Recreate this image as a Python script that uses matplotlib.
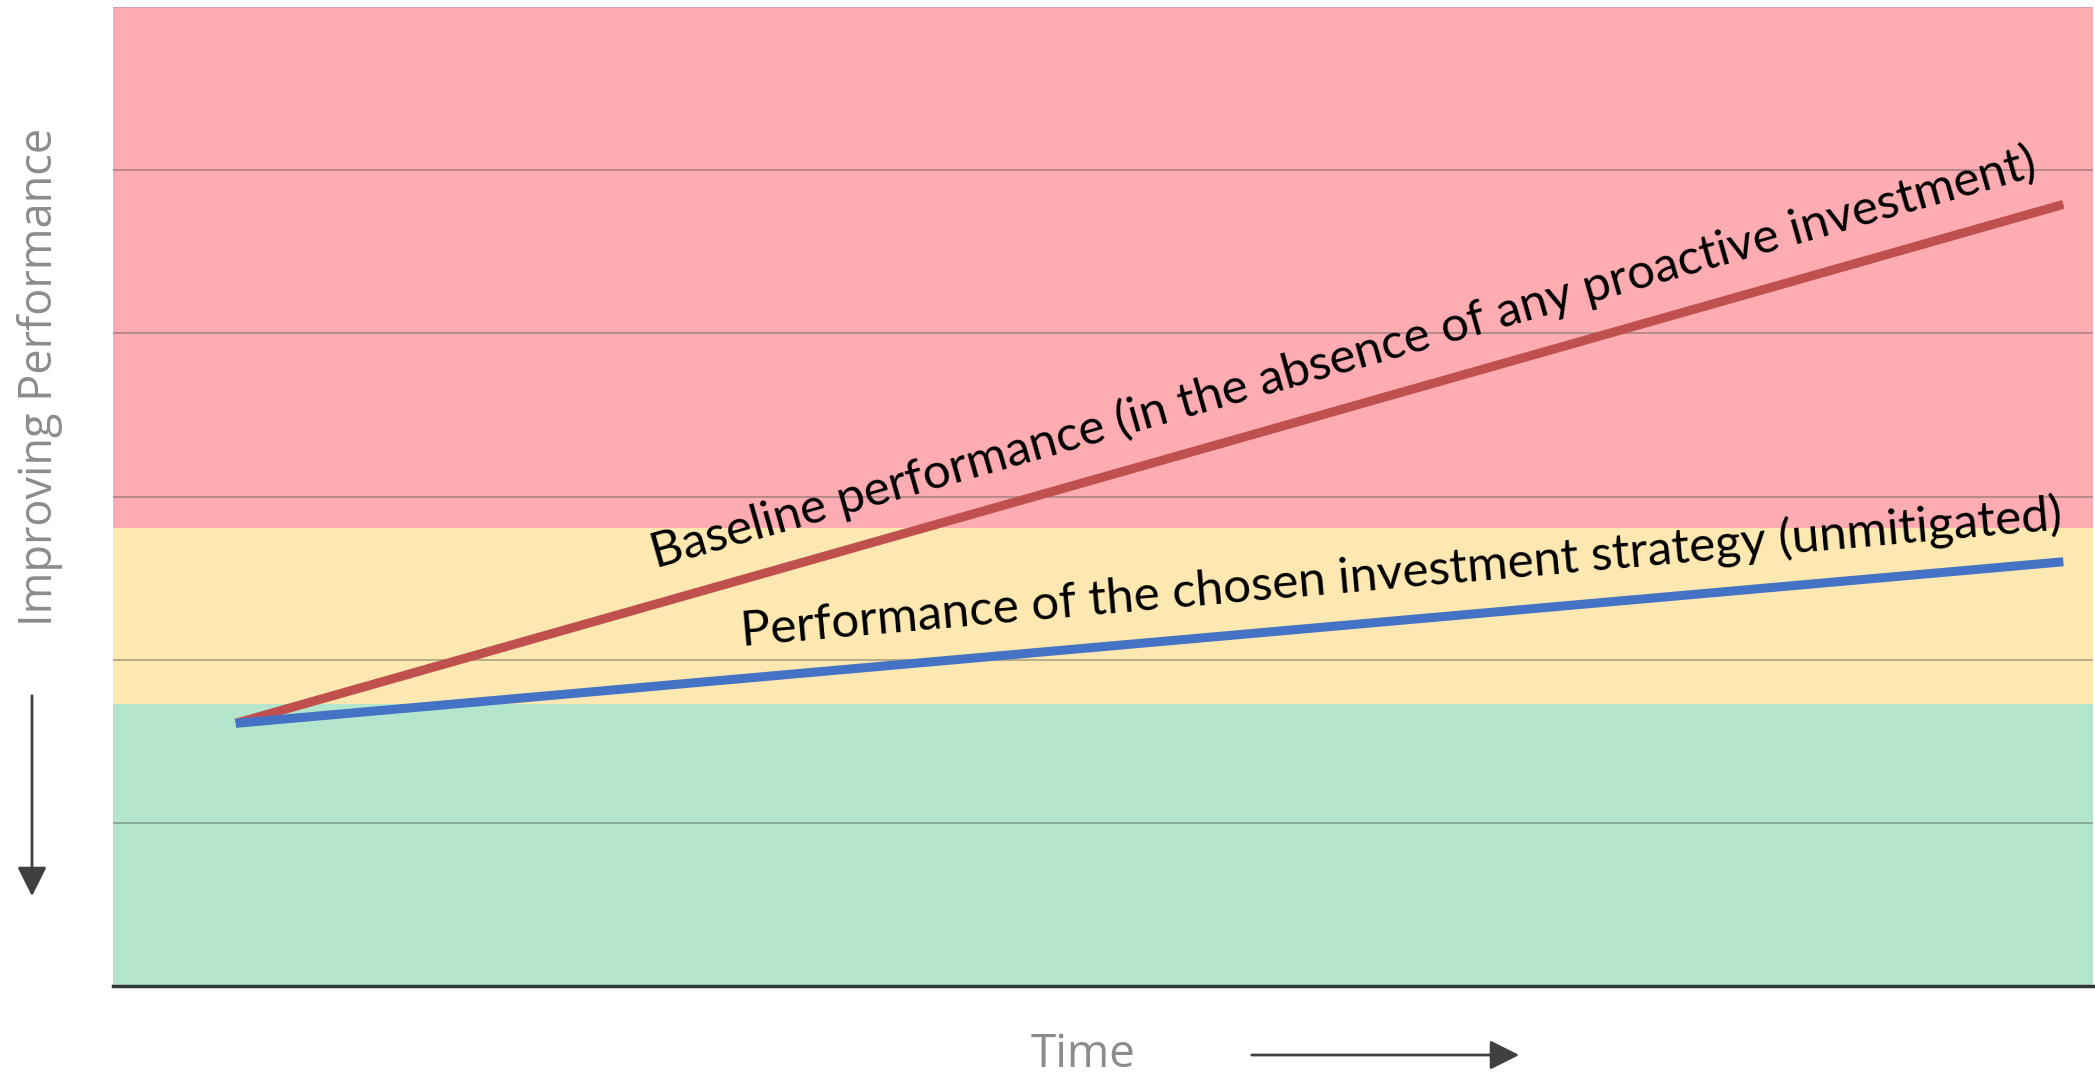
import matplotlib.pyplot as plt
import numpy as np

# band limits on the performance axis (0 = bottom, 6 = top)
band_edges = [0.0, 1.73, 2.81, 6.0]
band_colors = ['#b3e6cc', '#fde8b1', '#fdadb1']

grid_levels = [1, 2, 3, 4, 5, 6]

# two straight trajectories over time
time = [6.2, 98.5]
baseline = [1.61, 4.79]
strategy = [1.61, 2.60]

baseline_label = 'Baseline performance (in the absence of any proactive investment)'
strategy_label = 'Performance of the chosen investment strategy (unmitigated)'

W, H = 2095, 1075
fig = plt.figure(figsize=(W / 100, H / 100), dpi=100)
ax = fig.add_axes([113 / W, 1 - 986 / H, 1980 / W, 979 / H])
ax.set_xlim(0, 100)
ax.set_ylim(0, 6)

# coloured zones
for lo, hi, c in zip(band_edges[:-1], band_edges[1:], band_colors):
    ax.axhspan(lo, hi, color=c, zorder=0, lw=0)

# horizontal gridlines
for g in grid_levels:
    ax.axhline(g, color='#555555', alpha=0.45 if g < 6 else 0.2, lw=1.3, zorder=1)

ax.plot(time, baseline, color='#c0504d', lw=6.5, solid_capstyle='butt', zorder=3)
ax.plot(time, strategy, color='#4472c4', lw=6.5, solid_capstyle='butt', zorder=3)

for s in ['top', 'right', 'left']:
    ax.spines[s].set_visible(False)
ax.spines['bottom'].set_color('#2f3833')
ax.spines['bottom'].set_linewidth(2.5)
ax.set_xticks([])
ax.set_yticks([])

# rotate the labels to follow the lines on screen
def screen_angle(xs, ys):
    p = ax.transData.transform(np.column_stack([xs, ys]))
    return np.degrees(np.arctan2(p[1, 1] - p[0, 1], p[1, 0] - p[0, 0]))

ax.text(27.4, 2.56, baseline_label, rotation=screen_angle(time, baseline),
        rotation_mode='anchor', ha='left', va='baseline',
        fontsize=35.5, family='Lato', color='#000000', zorder=4)
ax.text(31.8, 2.08, strategy_label, rotation=screen_angle(time, strategy),
        rotation_mode='anchor', ha='left', va='baseline',
        fontsize=35.5, family='Lato', color='#000000', zorder=4)

# axis captions with arrows
fig.text(40 / W, 1 - 377 / H, 'Improving Performance', rotation=90,
         ha='center', va='center', fontsize=32.5, family='Open Sans', color='#8c8c8c')
fig.text(1083 / W, 1 - 1055 / H, 'Time', ha='center', va='center',
         fontsize=33, family='Open Sans', color='#8c8c8c')

arrow = dict(arrowstyle='-|>', color='#404040', lw=2, mutation_scale=45)
fig.add_artist(plt.matplotlib.patches.FancyArrowPatch(
    (32 / W, 1 - 693 / H), (32 / W, 1 - 899 / H), transform=fig.transFigure, **arrow))
fig.add_artist(plt.matplotlib.patches.FancyArrowPatch(
    (1249 / W, 1 - 1055 / H), (1522 / W, 1 - 1055 / H), transform=fig.transFigure, **arrow))

fig.savefig('out.png', dpi=100)
